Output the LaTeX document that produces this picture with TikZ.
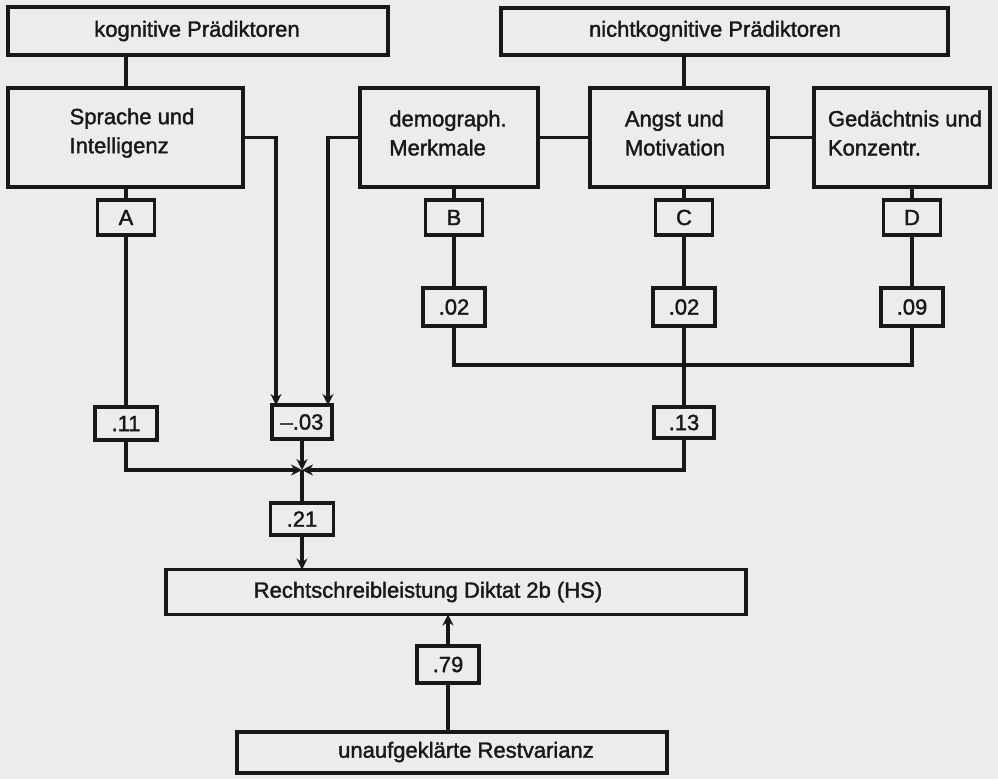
\documentclass[tikz,border=0pt]{standalone}
\usepackage{fontspec}
\setmainfont[FakeBold=1.6]{Liberation Sans}
\usetikzlibrary{arrows.meta}
\definecolor{paper}{RGB}{236,236,234}
\definecolor{ink}{RGB}{24,24,24}
\begin{document}
\begin{tikzpicture}[x=1pt,y=-1pt,
  every node/.style={inner sep=0pt, outer sep=0pt, text=ink,
    font=\fontsize{22}{29}\selectfont},
  box/.style={draw=ink, line width=3.6pt, rectangle},
  bigbox/.style={box, minimum height=99pt},
  tag/.style={box, minimum width=57pt, minimum height=35pt},
  coef/.style={box, minimum width=62pt, minimum height=36pt},
  caption/.style={align=left},
  conn/.style={draw=ink, line width=3.2pt, line join=miter},
  arr/.style={conn, -{Stealth[length=11pt,width=11pt]}}]

% page
\fill[paper] (0,0) rectangle (998,779);
\useasboundingbox (0,0) rectangle (998,779);

% predictor groups
\node[box, minimum width=380pt, minimum height=48pt] (kog) at (198,31) {};
\node (kogT) at (197,31) {kognitive Prädiktoren};
\node[box, minimum width=447pt, minimum height=47pt] (nicht) at (724.5,31.5) {};
\node (nichtT) at (715,31) {nichtkognitive Prädiktoren};

% predictor blocks
\node[bigbox, minimum width=235pt] (spr) at (125.5,137.5) {};
\node[caption] (sprT) at (132,133) {Sprache und\\Intelligenz};
\node[bigbox, minimum width=178pt] (dem) at (449,137.5) {};
\node[caption] (demT) at (448,133) {demograph.\\Merkmale};
\node[bigbox, minimum width=178pt] (ang) at (679,137.5) {};
\node[caption] (angT) at (675,133) {Angst und\\Motivation};
\node[bigbox, minimum width=176pt] (ged) at (902,137.5) {};
\node[caption] (gedT) at (905,133) {Gedächtnis und\\Konzentr.};

% block labels
\node[tag] (A) at (126,217.5) {A};
\node[tag] (B) at (454,217.5) {B};
\node[tag] (C) at (684,217.5) {C};
\node[tag] (D) at (912,217.5) {D};

% coefficients
\node[coef, minimum height=38pt] (b02) at (454,307) {.02};
\node[coef, minimum height=38pt] (c02) at (684,307) {.02};
\node[coef, minimum height=38pt] (d09) at (912,307) {.09};
\node[coef, minimum height=33pt] (c11) at (126,423.5) {.11};
\node[coef, minimum width=60pt, minimum height=34pt] (c03) at (302,422) {–.03};
\node[coef, minimum width=60pt, minimum height=31pt] (c13) at (684,422.5) {.13};
\node[coef, minimum width=63pt, minimum height=32pt] (c21) at (302,519) {.21};
\node[coef, minimum height=37pt] (c79) at (448,664.5) {.79};

% criterion and residual
\node[box, minimum width=580pt, minimum height=45pt] (rs) at (456,592) {};
\node (rsT) at (428,592) {Rechtschreibleistung Diktat 2b (HS)};
\node[box, minimum width=430pt, minimum height=41pt] (unauf) at (452,752.5) {};
\node (unaufT) at (466,752) {unaufgeklärte Restvarianz};

\coordinate (bus) at (684,365);
\coordinate (hub) at (302,470);

% group to block links
\draw[conn] (kog.south -| A) -- (spr.north -| A);
\draw[conn] (nicht.south -| C) -- (ang.north -| C);
\draw[conn] (dem.east) -- (ang.west);
\draw[conn] (ang.east) -- (ged.west);

% block to label to coefficient
\draw[conn] (spr.south -| A) -- (A.north);
\draw[conn] (dem.south -| B) -- (B.north);
\draw[conn] (ang.south -| C) -- (C.north);
\draw[conn] (ged.south -| D) -- (D.north);
\draw[conn] (A.south) -- (c11.north);
\draw[conn] (B.south) -- (b02.north);
\draw[conn] (C.south) -- (c02.north);
\draw[conn] (D.south) -- (d09.north);

% shared part of A and B
\draw[arr] (spr.east) -| ([xshift=4pt]c03.north west);
\draw[arr] (dem.west) -| ([xshift=-4pt]c03.north east);

% shared part of B, C and D
\draw[conn] (b02.south) |- (bus) -| (d09.south);
\draw[conn] (c02.south) -- (c13.north);

% summation
\draw[arr] (c11.south) |- (hub);
\draw[arr] (c13.south) |- (hub);
\draw[arr] (c03.south) -- (hub);
\draw[conn] (hub) -- (c21.north);
\draw[arr] (c21.south) -- (rs.north -| c21);

% residual variance
\draw[conn] (unauf.north -| c79) -- (c79.south);
\draw[arr] (c79.north) -- (rs.south -| c79);
\end{tikzpicture}
\end{document}
